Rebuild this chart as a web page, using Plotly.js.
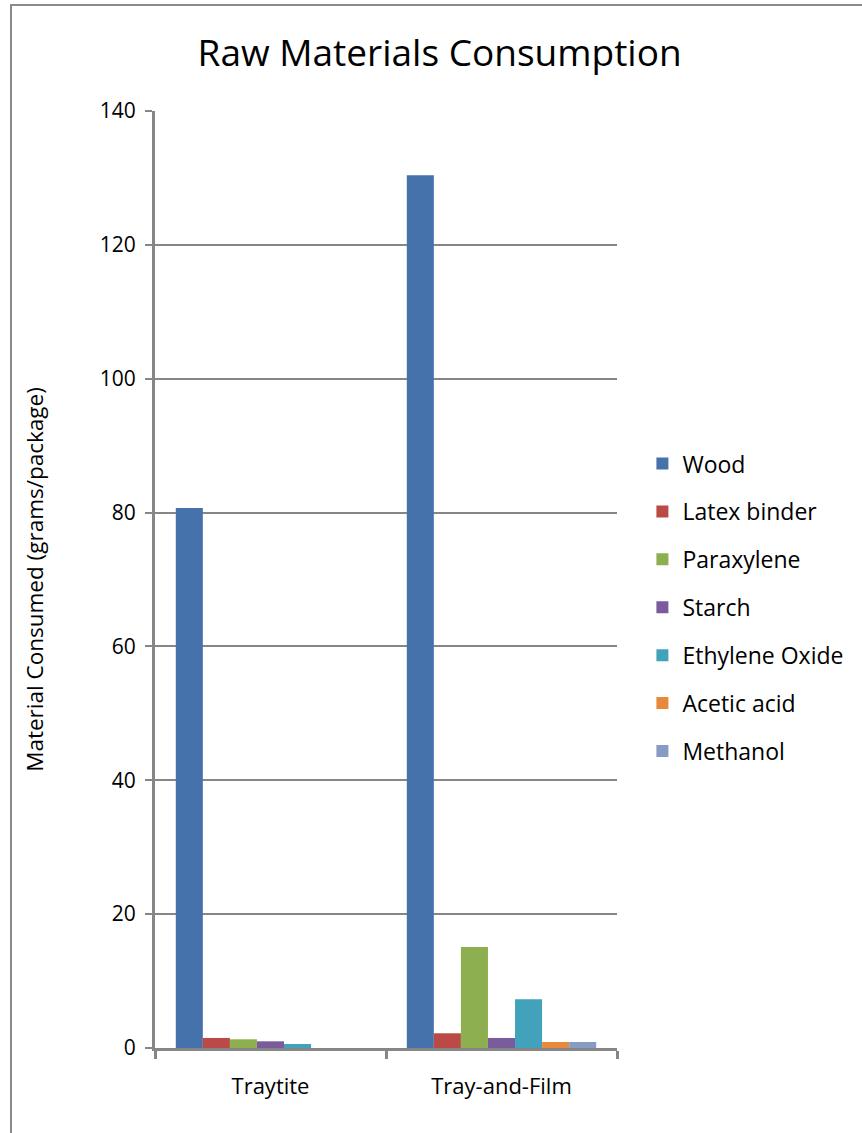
<!DOCTYPE html>
<html><head><meta charset="utf-8">
<script src="https://cdn.plot.ly/plotly-3.0.1.min.js"></script>
<style>
html,body{margin:0;padding:0;background:#fff;}
#frame{position:absolute;left:10px;top:4px;width:900px;height:1200px;border:2px solid #8a8a8a;box-sizing:border-box;}
#chart{position:absolute;left:0;top:0;width:862px;height:1133px;}
</style></head>
<body><div id="frame"></div><div id="chart"></div>
<script>
const categories = ["Traytite", "Tray-and-Film"];
const seriesNames = ["Wood", "Latex binder", "Paraxylene", "Starch", "Ethylene Oxide", "Acetic acid", "Methanol"];
const wood = [80.7, 130.4];
const latexBinder = [1.5, 2.2];
const paraxylene = [1.3, 15.1];
const starch = [1.0, 1.5];
const ethyleneOxide = [0.6, 7.3];
const aceticAcid = [0.0, 0.9];
const methanol = [0.0, 0.9];
const seriesValues = [wood, latexBinder, paraxylene, starch, ethyleneOxide, aceticAcid, methanol];
const colors = ["#4672AC", "#BB4A47", "#8DAF4F", "#7A5C9C", "#42A2BC", "#E8883A", "#869CC4"];

const traces = seriesNames.map((n, i) => ({
  type: "bar", name: n, x: categories, y: seriesValues[i],
  marker: {color: colors[i], line: {width: 0}}, legendgroup: "g" + i
}));

const layout = {
  width: 862, height: 1133,
  margin: {l: 155, r: 245, t: 111, b: 85, autoexpand: false},
  paper_bgcolor: "rgba(0,0,0,0)", plot_bgcolor: "rgba(0,0,0,0)",
  font: {family: "Open Sans, sans-serif", color: "#000"},
  title: {text: "Raw Materials Consumption", x: 0.51, xanchor: "center", y: 0.953, yanchor: "middle",
          font: {size: 37}},
  barmode: "group", bargap: 0.18, bargroupgap: 0,
  xaxis: {type: "category", tickson: "boundaries", ticks: "outside", ticklen: 8, tickwidth: 3, tickcolor: "#868686",
          showline: true, linecolor: "#868686", linewidth: 3, showgrid: false, tickfont: {size: 22},
          ticklabelstandoff: 17, fixedrange: true},
  yaxis: {range: [0, 140], dtick: 20, ticks: "outside", ticklen: 7, tickwidth: 2, tickcolor: "#868686",
          showline: true, linecolor: "#868686", linewidth: 3, showgrid: true, gridcolor: "#868686", gridwidth: 2,
          zeroline: false, tickfont: {size: 21}, ticklabelstandoff: 5,
          title: {text: "Material Consumed (grams/package)", font: {size: 22.5}, standoff: 50}},
  legend: {x: 1.055, xanchor: "left", y: 0.47, yanchor: "middle", font: {size: 23},
           tracegroupgap: 15, itemwidth: 30, bgcolor: "rgba(0,0,0,0)"},
  showlegend: true
};
Plotly.newPlot("chart", traces, layout, {staticPlot: true});
</script></body></html>
